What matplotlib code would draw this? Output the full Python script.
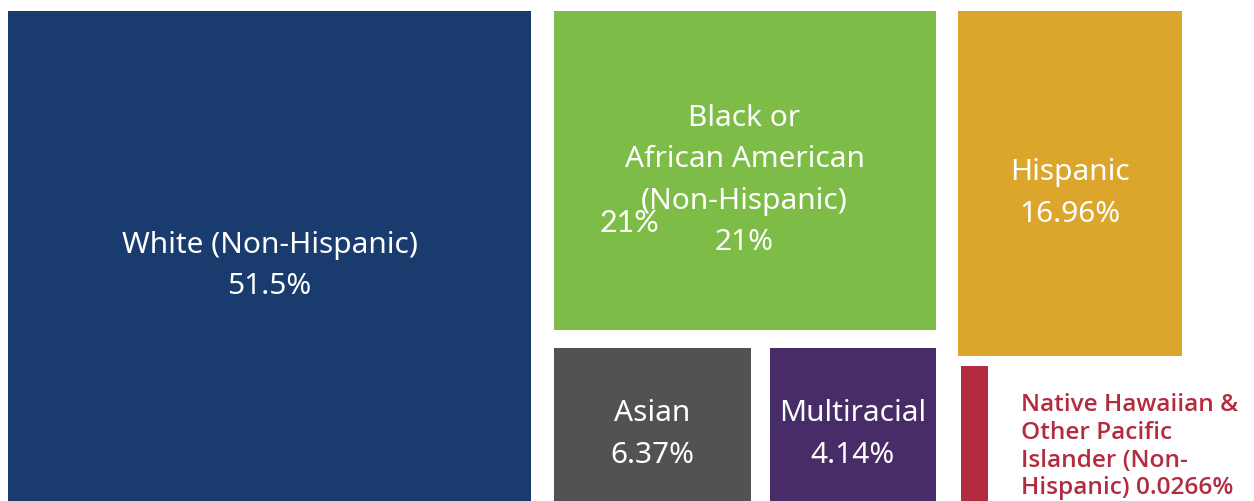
import matplotlib
matplotlib.use("Agg")
import matplotlib.pyplot as plt
from matplotlib.transforms import offset_copy

# population share by race / ethnicity (percent)
groups = ["White (Non-Hispanic)", "Black or\nAfrican American\n(Non-Hispanic)",
          "Hispanic", "Asian", "Multiracial",
          "Native Hawaiian &\nOther Pacific\nIslander (Non-\nHispanic)"]
shares = [51.5, 21, 16.96, 6.37, 4.14, 0.0266]
colors = ["#1a3b6d", "#7dbd47", "#dca52b", "#525252", "#472c68", "#b32b40"]

W, H = 1254, 502
fig = plt.figure(figsize=(W / 100, H / 100), dpi=100)

# tile layout (pixel-ish ratios of the original design)
outer = fig.add_gridspec(1, 3, left=8 / W, right=1182 / W, top=1 - 12 / H, bottom=0,
                         width_ratios=[523, 382, 224], wspace=22.5 / (1129 / 3))
mid = outer[1].subgridspec(2, 1, height_ratios=[319, 153], hspace=18 / 236)
mid_low = mid[1].subgridspec(1, 2, width_ratios=[197, 166], wspace=19 / 181.5)
right = outer[2].subgridspec(2, 1, height_ratios=[345, 135], hspace=10 / 240)
right_low = right[1].subgridspec(1, 3, width_ratios=[3, 27, 194], wspace=0)

cells = [outer[0], mid[0], right[0], mid_low[0], mid_low[1], right_low[1]]

FONT = "Noto Sans"
axes = []
for i, cell in enumerate(cells):
    ax = fig.add_subplot(cell)
    ax.set_facecolor(colors[i])
    ax.set_xticks([])
    ax.set_yticks([])
    for s in ax.spines.values():
        s.set_visible(False)
    axes.append(ax)
    if i < 5:
        tr = offset_copy(ax.transAxes, fig=fig, y=-9, units="dots")
        ax.text(0.5, 0.5, "%s\n%g%%" % (groups[i], shares[i]), transform=tr,
                ha="center", va="center", color="white", fontsize=21.5,
                family=FONT, linespacing=1.56)

# stray value label that sits inside the green tile
axes[1].text(0.12, 0.34, "%g%%" % shares[1], transform=axes[1].transAxes,
             ha="left", va="center", color="white", fontsize=22, family="Lato")

# label for the smallest group, set beside its thin bar
fig.text(1021 / W, 1 - 393 / H, "%s %g%%" % (groups[5], shares[5]),
         ha="left", va="top", color=colors[5], fontsize=17.6, family="Open Sans",
         weight="semibold", linespacing=1.21)

fig.savefig("out.png", dpi=100)
